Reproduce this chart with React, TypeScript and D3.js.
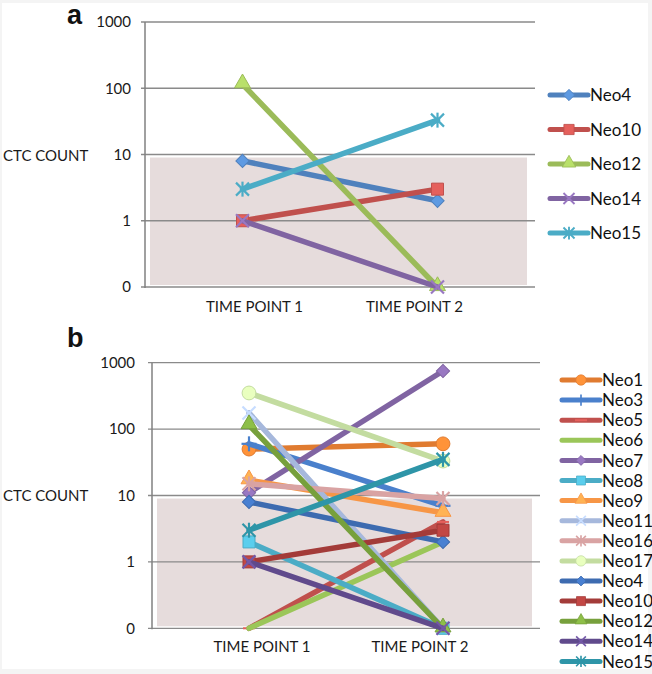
import React from "react";
import * as d3 from "d3";

const timePoints = ["TIME POINT 1", "TIME POINT 2"];
const tickValues = [0.1, 1, 10, 100, 1000];
const tickLabels = ["0", "1", "10", "100", "1000"];
const shadeThreshold = 9;

// Panel a
const namesA = ["Neo4", "Neo10", "Neo12", "Neo14", "Neo15"];
const tp1A = [8, 1, 115, 1, 3];
const tp2A = [2, 3, 0.1, 0.1, 33];

// Panel b
const namesB = ["Neo1", "Neo3", "Neo5", "Neo6", "Neo7", "Neo8", "Neo9", "Neo11", "Neo16", "Neo17", "Neo4", "Neo10", "Neo12", "Neo14", "Neo15"];
const tp1B = [50, 60, 0.1, 0.1, 11, 2, 17, 175, 15, 350, 8, 1, 115, 1, 3];
const tp2B = [60, 7, 4, 2, 750, 0.1, 5.5, 0.1, 9, 33, 2, 3, 0.1, 0.1, 35];

type Marker = "diamond" | "square" | "triangle" | "x" | "star" | "circle" | "plus" | "dash" | "none";

const styleA: Record<string, { color: string; marker: Marker }> = {
  Neo4: { color: "#4f81bd", marker: "diamond" },
  Neo10: { color: "#c0504d", marker: "square" },
  Neo12: { color: "#9bbb59", marker: "triangle" },
  Neo14: { color: "#8064a2", marker: "x" },
  Neo15: { color: "#4bacc6", marker: "star" },
};

const styleB: Record<string, { color: string; marker: Marker }> = {
  Neo1: { color: "#e07b30", marker: "circle" },
  Neo3: { color: "#4a80cc", marker: "plus" },
  Neo5: { color: "#c0504d", marker: "dash" },
  Neo6: { color: "#9bc659", marker: "none" },
  Neo7: { color: "#8064a2", marker: "diamond" },
  Neo8: { color: "#4bacc6", marker: "square" },
  Neo9: { color: "#f79646", marker: "triangle" },
  Neo11: { color: "#a6b8dc", marker: "x" },
  Neo16: { color: "#d9a3a3", marker: "star" },
  Neo17: { color: "#c3dca0", marker: "circle" },
  Neo4: { color: "#3d6bb0", marker: "diamond" },
  Neo10: { color: "#a33b39", marker: "square" },
  Neo12: { color: "#77a03c", marker: "triangle" },
  Neo14: { color: "#604a8c", marker: "x" },
  Neo15: { color: "#2e95a8", marker: "star" },
};

const FONT = "Lato, 'Open Sans', sans-serif";

function MarkerShape({ type, color, x, y, s = 1 }: { type: Marker; color: string; x: number; y: number; s?: number }) {
  const light = d3.color(color)!.brighter(0.5).formatHex();
  const t = `translate(${x},${y}) scale(${s})`;
  switch (type) {
    case "circle":
      return <path transform={t} d={d3.symbol().type(d3.symbolCircle).size(150)()!} fill={light} stroke={color} strokeWidth={1} />;
    case "square":
      return <path transform={t} d={d3.symbol().type(d3.symbolSquare).size(144)()!} fill={light} stroke={color} strokeWidth={1} />;
    case "diamond":
      return <path transform={`${t} rotate(45)`} d={d3.symbol().type(d3.symbolSquare).size(88)()!} fill={light} stroke={color} strokeWidth={1} />;
    case "triangle":
      return <path transform={`${t} translate(0,-1)`} d={d3.symbol().type(d3.symbolTriangle).size(110)()!} fill={light} stroke={color} strokeWidth={1} />;
    case "x":
      return (
        <g transform={t} stroke={light} strokeWidth={2.2}>
          <line x1={-6.5} y1={-6.5} x2={6.5} y2={6.5} />
          <line x1={-6.5} y1={6.5} x2={6.5} y2={-6.5} />
        </g>
      );
    case "star":
      return (
        <g transform={t} stroke={color} strokeWidth={2.2}>
          <line x1={-6.5} y1={-6.5} x2={6.5} y2={6.5} />
          <line x1={-6.5} y1={6.5} x2={6.5} y2={-6.5} />
          <line x1={0} y1={-7.5} x2={0} y2={7.5} />
        </g>
      );
    case "plus":
      return (
        <g transform={t} stroke={color} strokeWidth={2.2}>
          <line x1={0} y1={-7.5} x2={0} y2={7.5} />
          <line x1={-7.5} y1={0} x2={7.5} y2={0} />
        </g>
      );
    case "dash":
      return <line x1={x - 6} y1={y} x2={x + 6} y2={y} stroke={light} strokeWidth={2} />;
    default:
      return null;
  }
}

type PanelProps = {
  letter: string;
  letterY: number;
  names: string[];
  tp1: number[];
  tp2: number[];
  styles: Record<string, { color: string; marker: Marker }>;
  left: number;
  right: number;
  top: number;
  bottom: number;
  legendX: number;
  legendY0: number;
  legendStep: number;
  legendMarkerScale: number;
  titleY: number;
  xLabelY: number;
  xLabelShift: number[];
  labelRight: number;
};

function Panel(p: PanelProps) {
  const y = d3.scaleLog().domain([0.1, 1000]).range([p.bottom, p.top]);
  const x = d3.scaleBand().domain(timePoints).range([p.left, p.right]);
  const cx = (tp: string) => (x(tp) as number) + x.bandwidth() / 2;
  const line = d3
    .line<[string, number]>()
    .x((d) => cx(d[0]))
    .y((d) => y(d[1]));
  return (
    <g>
      <text x={67} y={p.letterY} fontFamily="'Liberation Sans', Arial, sans-serif" fontWeight="bold" fontSize={27} fill="#111">
        {p.letter}
      </text>
      <rect
        x={p.left + 5}
        y={y(shadeThreshold)}
        width={p.right - p.left - 13}
        height={y(0.1) - 2 - y(shadeThreshold)}
        fill="#e6dcdc"
      />
      {tickValues.map((v, i) => (
        <g key={v}>
          <line x1={p.left - 4} x2={p.right} y1={y(v)} y2={y(v)} stroke="#8a8a8a" strokeWidth={1.3} />
          <text x={p.labelRight} y={y(v)} dy="0.35em" textAnchor="end" fontFamily={FONT} fontSize={15} fill="#1a1a1a">
            {tickLabels[i]}
          </text>
        </g>
      ))}
      <line x1={p.left} x2={p.left} y1={y(1000)} y2={y(0.1) + 1} stroke="#808080" strokeWidth={1.5} />
      <text x={3} y={p.titleY} fontFamily={FONT} fontSize={15} fill="#1a1a1a">
        CTC COUNT
      </text>
      {timePoints.map((tp, i) => (
        <text key={tp} x={cx(tp) + p.xLabelShift[i]} y={p.xLabelY} textAnchor="middle" fontFamily={FONT} fontSize={15} fill="#1a1a1a">
          {tp}
        </text>
      ))}
      {p.names.map((n, i) => {
        const st = p.styles[n];
        const pts: [string, number][] = [
          [timePoints[0], p.tp1[i]],
          [timePoints[1], p.tp2[i]],
        ];
        return (
          <g key={n}>
            <path d={line(pts)!} fill="none" stroke={st.color} strokeWidth={5.5} strokeLinecap="round" />
            {pts.map((d) => (
              <MarkerShape key={d[0]} type={st.marker} color={st.color} x={cx(d[0])} y={y(d[1])} />
            ))}
          </g>
        );
      })}
      {p.names.map((n, i) => {
        const st = p.styles[n];
        const ly = p.legendY0 + i * p.legendStep;
        return (
          <g key={"lg" + n}>
            <line x1={p.legendX} x2={p.legendX + 38} y1={ly} y2={ly} stroke={st.color} strokeWidth={5} strokeLinecap="round" />
            <MarkerShape type={st.marker} color={st.color} x={p.legendX + 19} y={ly} s={p.legendMarkerScale} />
            <text x={p.legendX + 40} y={ly} dy="0.36em" fontFamily={FONT} fontSize={17} fill="#111">
              {n}
            </text>
          </g>
        );
      })}
    </g>
  );
}

export default function App() {
  return (
    <svg width={652} height={674} style={{ position: "absolute", left: 0, top: 0 }}>
      <rect x={0} y={0} width={652} height={674} fill="#f4f4f4" />
      <rect x={2} y={3} width={646} height={666} fill="#ffffff" />
      <Panel
        letter="a"
        letterY={24}
        names={namesA}
        tp1={tp1A}
        tp2={tp2A}
        styles={styleA}
        left={145}
        right={535}
        top={22}
        bottom={287}
        legendX={550}
        legendY0={95}
        legendStep={34.5}
        legendMarkerScale={0.85}
        titleY={161}
        xLabelY={312}
        xLabelShift={[12, -23]}
        labelRight={131}
      />
      <Panel
        letter="b"
        letterY={347}
        names={namesB}
        tp1={tp1B}
        tp2={tp2B}
        styles={styleB}
        left={152}
        right={540}
        top={362.7}
        bottom={628.3}
        legendX={562}
        legendY0={380}
        legendStep={20.1}
        legendMarkerScale={0.75}
        titleY={501}
        xLabelY={652}
        xLabelShift={[13, -23]}
        labelRight={135}
      />
    </svg>
  );
}
